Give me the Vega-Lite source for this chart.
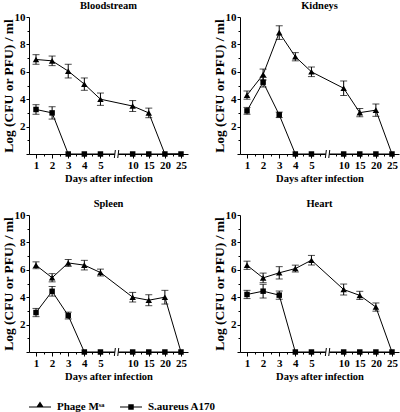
{
  "$schema": "https://vega.github.io/schema/vega-lite/v6.json",
  "background": "white",
  "padding": {"left": 0, "top": 0, "right": 0, "bottom": 0},
  "config": {
    "view": {"stroke": null},
    "font": "Liberation Serif",
    "axis": {"grid": false, "domainColor": "black", "tickColor": "black", "labelColor": "black", "titleColor": "black", "labelFont": "Liberation Serif", "titleFont": "Liberation Serif", "labelFontWeight": "bold", "titleFontWeight": "bold", "labelFontSize": 11, "titleFontSize": 10.5}
  },
  "data": {"values": [
    {"organ": "Bloodstream", "series": "Phage MSa", "day": "1", "value": 6.9, "err": 0.35},
    {"organ": "Bloodstream", "series": "Phage MSa", "day": "2", "value": 6.8, "err": 0.35},
    {"organ": "Bloodstream", "series": "Phage MSa", "day": "3", "value": 6.05, "err": 0.5},
    {"organ": "Bloodstream", "series": "Phage MSa", "day": "4", "value": 5.1, "err": 0.45},
    {"organ": "Bloodstream", "series": "Phage MSa", "day": "5", "value": 4.0, "err": 0.45},
    {"organ": "Bloodstream", "series": "Phage MSa", "day": "10", "value": 3.5, "err": 0.4},
    {"organ": "Bloodstream", "series": "Phage MSa", "day": "15", "value": 3.0, "err": 0.35},
    {"organ": "Bloodstream", "series": "Phage MSa", "day": "20", "value": 0, "err": 0},
    {"organ": "Bloodstream", "series": "Phage MSa", "day": "25", "value": 0, "err": 0},
    {"organ": "Bloodstream", "series": "S.aureus A170", "day": "1", "value": 3.25, "err": 0.35},
    {"organ": "Bloodstream", "series": "S.aureus A170", "day": "2", "value": 3.0, "err": 0.45},
    {"organ": "Bloodstream", "series": "S.aureus A170", "day": "3", "value": 0, "err": 0},
    {"organ": "Bloodstream", "series": "S.aureus A170", "day": "4", "value": 0, "err": 0},
    {"organ": "Bloodstream", "series": "S.aureus A170", "day": "5", "value": 0, "err": 0},
    {"organ": "Bloodstream", "series": "S.aureus A170", "day": "10", "value": 0, "err": 0},
    {"organ": "Bloodstream", "series": "S.aureus A170", "day": "15", "value": 0, "err": 0},
    {"organ": "Bloodstream", "series": "S.aureus A170", "day": "20", "value": 0, "err": 0},
    {"organ": "Bloodstream", "series": "S.aureus A170", "day": "25", "value": 0, "err": 0},
    {"organ": "Kidneys", "series": "Phage MSa", "day": "1", "value": 4.3, "err": 0.3},
    {"organ": "Kidneys", "series": "Phage MSa", "day": "2", "value": 5.8, "err": 0.4},
    {"organ": "Kidneys", "series": "Phage MSa", "day": "3", "value": 8.86, "err": 0.5},
    {"organ": "Kidneys", "series": "Phage MSa", "day": "4", "value": 7.1, "err": 0.3},
    {"organ": "Kidneys", "series": "Phage MSa", "day": "5", "value": 6.0, "err": 0.35},
    {"organ": "Kidneys", "series": "Phage MSa", "day": "10", "value": 4.8, "err": 0.53},
    {"organ": "Kidneys", "series": "Phage MSa", "day": "15", "value": 3.02, "err": 0.3},
    {"organ": "Kidneys", "series": "Phage MSa", "day": "20", "value": 3.2, "err": 0.45},
    {"organ": "Kidneys", "series": "Phage MSa", "day": "25", "value": 0, "err": 0},
    {"organ": "Kidneys", "series": "S.aureus A170", "day": "1", "value": 3.15, "err": 0.25},
    {"organ": "Kidneys", "series": "S.aureus A170", "day": "2", "value": 5.24, "err": 0.35},
    {"organ": "Kidneys", "series": "S.aureus A170", "day": "3", "value": 2.86, "err": 0.2},
    {"organ": "Kidneys", "series": "S.aureus A170", "day": "4", "value": 0, "err": 0},
    {"organ": "Kidneys", "series": "S.aureus A170", "day": "5", "value": 0, "err": 0},
    {"organ": "Kidneys", "series": "S.aureus A170", "day": "10", "value": 0, "err": 0},
    {"organ": "Kidneys", "series": "S.aureus A170", "day": "15", "value": 0, "err": 0},
    {"organ": "Kidneys", "series": "S.aureus A170", "day": "20", "value": 0, "err": 0},
    {"organ": "Kidneys", "series": "S.aureus A170", "day": "25", "value": 0, "err": 0},
    {"organ": "Spleen", "series": "Phage MSa", "day": "1", "value": 6.33, "err": 0.25},
    {"organ": "Spleen", "series": "Phage MSa", "day": "2", "value": 5.42, "err": 0.3},
    {"organ": "Spleen", "series": "Phage MSa", "day": "3", "value": 6.5, "err": 0.25},
    {"organ": "Spleen", "series": "Phage MSa", "day": "4", "value": 6.34, "err": 0.35},
    {"organ": "Spleen", "series": "Phage MSa", "day": "5", "value": 5.8, "err": 0.25},
    {"organ": "Spleen", "series": "Phage MSa", "day": "10", "value": 4.0, "err": 0.35},
    {"organ": "Spleen", "series": "Phage MSa", "day": "15", "value": 3.78, "err": 0.4},
    {"organ": "Spleen", "series": "Phage MSa", "day": "20", "value": 4.0, "err": 0.5},
    {"organ": "Spleen", "series": "Phage MSa", "day": "25", "value": 0, "err": 0},
    {"organ": "Spleen", "series": "S.aureus A170", "day": "1", "value": 2.88, "err": 0.3},
    {"organ": "Spleen", "series": "S.aureus A170", "day": "2", "value": 4.43, "err": 0.35},
    {"organ": "Spleen", "series": "S.aureus A170", "day": "3", "value": 2.66, "err": 0.25},
    {"organ": "Spleen", "series": "S.aureus A170", "day": "4", "value": 0, "err": 0},
    {"organ": "Spleen", "series": "S.aureus A170", "day": "5", "value": 0, "err": 0},
    {"organ": "Spleen", "series": "S.aureus A170", "day": "10", "value": 0, "err": 0},
    {"organ": "Spleen", "series": "S.aureus A170", "day": "15", "value": 0, "err": 0},
    {"organ": "Spleen", "series": "S.aureus A170", "day": "20", "value": 0, "err": 0},
    {"organ": "Spleen", "series": "S.aureus A170", "day": "25", "value": 0, "err": 0},
    {"organ": "Heart", "series": "Phage MSa", "day": "1", "value": 6.33, "err": 0.3},
    {"organ": "Heart", "series": "Phage MSa", "day": "2", "value": 5.41, "err": 0.35},
    {"organ": "Heart", "series": "Phage MSa", "day": "3", "value": 5.78, "err": 0.45},
    {"organ": "Heart", "series": "Phage MSa", "day": "4", "value": 6.09, "err": 0.25},
    {"organ": "Heart", "series": "Phage MSa", "day": "5", "value": 6.7, "err": 0.35},
    {"organ": "Heart", "series": "Phage MSa", "day": "10", "value": 4.56, "err": 0.4},
    {"organ": "Heart", "series": "Phage MSa", "day": "15", "value": 4.13, "err": 0.3},
    {"organ": "Heart", "series": "Phage MSa", "day": "20", "value": 3.28, "err": 0.3},
    {"organ": "Heart", "series": "Phage MSa", "day": "25", "value": 0, "err": 0},
    {"organ": "Heart", "series": "S.aureus A170", "day": "1", "value": 4.2, "err": 0.3},
    {"organ": "Heart", "series": "S.aureus A170", "day": "2", "value": 4.44, "err": 0.5},
    {"organ": "Heart", "series": "S.aureus A170", "day": "3", "value": 4.15, "err": 0.3},
    {"organ": "Heart", "series": "S.aureus A170", "day": "4", "value": 0, "err": 0},
    {"organ": "Heart", "series": "S.aureus A170", "day": "5", "value": 0, "err": 0},
    {"organ": "Heart", "series": "S.aureus A170", "day": "10", "value": 0, "err": 0},
    {"organ": "Heart", "series": "S.aureus A170", "day": "15", "value": 0, "err": 0},
    {"organ": "Heart", "series": "S.aureus A170", "day": "20", "value": 0, "err": 0},
    {"organ": "Heart", "series": "S.aureus A170", "day": "25", "value": 0, "err": 0}
  ]},
  "facet": {"field": "organ", "type": "nominal", "sort": ["Bloodstream", "Kidneys", "Spleen", "Heart"],
    "header": {"title": null, "labelFont": "Liberation Serif", "labelFontWeight": "bold", "labelFontSize": 10.5, "labelPadding": 0, "labelColor": "black"}},
  "columns": 2,
  "spacing": {"row": 14, "column": 19},
  "resolve": {"axis": {"x": "independent", "y": "independent"}},
  "spec": {
    "width": 159,
    "height": 137,
    "encoding": {
      "x": {"field": "day", "type": "nominal",
        "scale": {"type": "point", "padding": 0.87, "domain": ["1", "m1", "2", "m2", "3", "m3", "4", "m4", "5", "m5", "brk", "m6", "10", "m7", "15", "m8", "20", "m9", "25"]},
        "axis": {"title": "Days after infection", "labelAngle": 0, "labelPadding": 1, "titlePadding": 3,
          "labelExpr": "test(/^[0-9]+$/, datum.value) ? datum.value : ''",
          "tickSize": {"condition": {"test": "test(/^[0-9]+$/, datum.value)", "value": 4}, "value": 2},
          "tickOpacity": {"condition": {"test": "datum.value == 'brk'", "value": 0}, "value": 1}}},
      "y": {"field": "value", "type": "quantitative",
        "scale": {"domain": [0, 10], "nice": false},
        "axis": {"title": "Log (CFU or PFU) / ml", "titleFontSize": 13.5, "titleX": -14, "titleY": 68.5, "values": [0, 1, 2, 3, 4, 5, 6, 7, 8, 9, 10], "labelPadding": 1,
          "labelExpr": "datum.value > 0 && datum.value % 2 == 0 ? datum.label : ''",
          "tickSize": {"condition": {"test": "datum.value % 2 == 0", "value": 3}, "value": 2}}}
    },
    "layer": [
      {"mark": {"type": "line", "interpolate": "linear", "color": "black", "strokeWidth": 1},
       "encoding": {"detail": {"field": "series"}}},
      {"transform": [{"filter": "datum.err > 0"}],
       "mark": {"type": "errorbar", "ticks": {"size": 7}, "color": "black", "thickness": 1},
       "encoding": {"yError": {"field": "err"}}},
      {"transform": [{"filter": "datum.series == 'Phage MSa' && datum.value > 0"}],
       "mark": {"type": "point", "shape": "triangle-up", "filled": true, "color": "black", "opacity": 1, "size": 42}},
      {"transform": [{"filter": "datum.series == 'S.aureus A170'"}],
       "mark": {"type": "point", "shape": "square", "filled": true, "color": "black", "opacity": 1, "size": 30}},
      {"mark": {"type": "point", "filled": true, "color": "black", "opacity": 0, "size": 484},
       "encoding": {"shape": {"field": "series", "type": "nominal",
         "scale": {"domain": ["Phage MSa", "S.aureus A170"], "range": ["M-1,-0.045H-0.3L0,-0.5L0.3,-0.045H1V0.045H-1Z", "M-1,-0.045H-0.25V-0.25H0.25V-0.045H1V0.045H0.25V0.25H-0.25V0.045H-1Z"]},
         "legend": {"title": null, "orient": "none", "legendX": 0, "legendY": 379, "direction": "horizontal",
           "symbolSize": 484, "symbolFillColor": "black", "symbolStrokeColor": "black", "symbolStrokeWidth": 0, "symbolOpacity": 1,
           "labelFont": "Liberation Serif", "labelFontWeight": "bold", "labelFontSize": 11, "labelColor": "black", "labelOffset": 6, "columnPadding": 15,
           "labelExpr": "datum.label == 'Phage MSa' ? 'Phage Mˢᵃ' : datum.label"}}}},
      {"transform": [{"filter": "datum.series == 'Phage MSa' && datum.day == '1'"}],
       "mark": {"type": "point", "shape": "M-0.45,-0.35H0.45V0.35H-0.45Z", "filled": true, "color": "white", "opacity": 1, "size": 64},
       "encoding": {"x": {"datum": "brk", "type": "nominal"}, "y": {"datum": 0, "type": "quantitative"}}},
      {"transform": [{"filter": "datum.series == 'Phage MSa' && datum.day == '1'"}],
       "mark": {"type": "point", "shape": "M-0.55,1L-0.3,-1M0.3,1L0.55,-1", "filled": false, "color": "black", "strokeWidth": 1, "opacity": 1, "size": 64},
       "encoding": {"x": {"datum": "brk", "type": "nominal"}, "y": {"datum": 0, "type": "quantitative"}}}
    ]
  }
}
